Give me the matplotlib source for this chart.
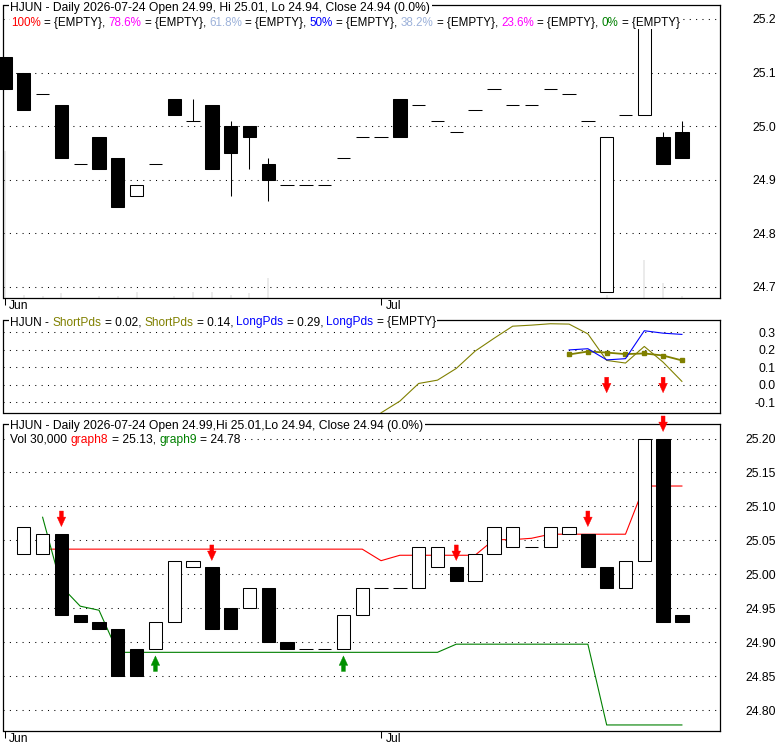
import numpy as np
import matplotlib
matplotlib.use('Agg')
import matplotlib.pyplot as plt
import matplotlib.transforms as mtrans
from matplotlib.patches import Rectangle
from matplotlib.font_manager import FontProperties

plt.rcParams['font.family'] = ['Liberation Sans', 'DejaVu Sans']
plt.rcParams['axes.unicode_minus'] = False

nan = np.nan

# ---------------- data ----------------
month_ticks = [0, 20]
month_labels = ['Jun', 'Jul']

top_open = [25.13, 25.10, 25.06, 25.04, 24.93, 24.98, 24.94, 24.87, 24.93, 25.05, 25.01, 25.04, 25.00,
            25.00, 24.93, 24.89, 24.89, 24.89, 24.94, 24.98, 24.98, 25.05, 25.04, 25.01, 24.99, 25.03,
            25.07, 25.04, 25.04, 25.07, 25.06, 25.01, 24.69, 25.02, 25.02, 24.98, 24.99]
top_close = [25.07, 25.03, 25.06, 24.94, 24.93, 24.92, 24.85, 24.89, 24.93, 25.02, 25.01, 24.92, 24.95,
             24.98, 24.90, 24.89, 24.89, 24.89, 24.94, 24.98, 24.98, 24.98, 25.04, 25.01, 24.99, 25.03,
             25.07, 25.04, 25.04, 25.07, 25.06, 25.01, 24.98, 25.02, 25.20, 24.93, 24.94]
top_high = [25.13, 25.10, 25.06, 25.04, 24.93, 24.98, 24.94, 24.89, 24.93, 25.05, 25.05, 25.04, 25.01,
            25.00, 24.94, 24.89, 24.89, 24.89, 24.94, 24.98, 24.98, 25.05, 25.04, 25.01, 24.99, 25.03,
            25.07, 25.04, 25.04, 25.07, 25.06, 25.01, 24.98, 25.02, 25.20, 24.99, 25.01]
top_low = [25.07, 25.03, 25.06, 24.94, 24.93, 24.92, 24.85, 24.87, 24.93, 25.02, 25.01, 24.92, 24.87,
           24.92, 24.86, 24.89, 24.89, 24.89, 24.94, 24.98, 24.98, 24.98, 25.04, 25.01, 24.99, 25.03,
           25.07, 25.04, 25.04, 25.07, 25.06, 25.01, 24.69, 25.02, 25.02, 24.93, 24.94]
volume = [4380000, 60000, 45000, 135000, 0, 45000, 30000, 165000, 0, 30000, 165000, 165000, 60000,
          135000, 570000, 0, 0, 0, 0, 0, 0, 0, 0, 0, 0, 0, 0, 0, 0, 0, 0, 0, 60000, 0, 1110000, 420000, 30000]

short_fast = [nan, nan, nan, nan, nan, nan, nan, nan, nan, nan, nan, nan, nan, nan, nan, nan, nan, nan,
              nan, nan, -0.16, -0.093, 0.008, 0.027, 0.094, 0.193, 0.266, 0.336, 0.342, 0.35, 0.348,
              0.292, 0.14, 0.125, 0.22, 0.13, 0.02]
short_slow = [nan, nan, nan, nan, nan, nan, nan, nan, nan, nan, nan, nan, nan, nan, nan, nan, nan, nan,
              nan, nan, nan, nan, nan, nan, nan, nan, nan, nan, nan, nan, 0.174, 0.191, 0.185, 0.176,
              0.18, 0.168, 0.14]
long_pds = [nan, nan, nan, nan, nan, nan, nan, nan, nan, nan, nan, nan, nan, nan, nan, nan, nan, nan,
            nan, nan, nan, nan, nan, nan, nan, nan, nan, nan, nan, nan, 0.20, 0.207, 0.143, 0.15,
            0.31, 0.296, 0.289]
mid_sell_idx = [32, 35]
mid_sell_level = [-0.045, -0.045]

bot_open = [nan, 25.03, 25.03, 25.06, 24.94, 24.93, 24.92, 24.89, 24.89, 24.93, 25.01, 25.01, 24.95,
            24.95, 24.98, 24.90, 24.89, 24.89, 24.89, 24.94, 24.98, 24.98, 24.98, 25.01, 25.01, 24.99,
            25.03, 25.04, 25.04, 25.04, 25.06, 25.06, 25.01, 24.98, 25.02, 25.20, 24.94]
bot_close = [nan, 25.07, 25.06, 24.94, 24.93, 24.92, 24.85, 24.85, 24.93, 25.02, 25.02, 24.92, 24.92,
             24.98, 24.90, 24.89, 24.89, 24.89, 24.94, 24.98, 24.98, 24.98, 25.04, 25.04, 24.99, 25.03,
             25.07, 25.07, 25.04, 25.07, 25.07, 25.01, 24.98, 25.02, 25.20, 24.93, 24.93]
graph8 = [nan, nan, 25.037, 25.037, 25.037, 25.037, 25.037, 25.037, 25.037, 25.037, 25.037, 25.037,
          25.037, 25.037, 25.037, 25.037, 25.037, 25.037, 25.037, 25.037, 25.02, 25.028, 25.028, 25.028,
          25.028, 25.028, 25.051, 25.051, 25.053, 25.059, 25.059, 25.059, 25.059, 25.059, 25.13, 25.13, 25.13]
graph9 = [nan, nan, 25.084, 24.982, 24.953, 24.947, 24.885, 24.885, 24.885, 24.885, 24.885, 24.885,
          24.885, 24.885, 24.885, 24.885, 24.885, 24.885, 24.885, 24.885, 24.885, 24.885, 24.885, 24.885,
          24.897, 24.897, 24.897, 24.897, 24.897, 24.897, 24.897, 24.897, 24.778, 24.778, 24.778, 24.778, 24.778]
bot_sell_idx = [3, 11, 24, 31, 35]
bot_buy_idx = [8, 18]

top_ticks = [24.7, 24.8, 24.9, 25.0, 25.1, 25.2]
top_ticklabels = ['24.7', '24.8', '24.9', '25.0', '25.1', '25.2']
mid_ticks = [-0.1, 0.0, 0.1, 0.2, 0.3]
mid_ticklabels = ['-0.1', '0.0', '0.1', '0.2', '0.3']
bot_ticks = [24.80, 24.85, 24.90, 24.95, 25.00, 25.05, 25.10, 25.15, 25.20]
bot_ticklabels = ['24.80', '24.85', '24.90', '24.95', '25.00', '25.05', '25.10', '25.15', '25.20']

# ---------------- layout ----------------
W, H, DPI = 780, 745, 100
FS = 8.7
fig = plt.figure(figsize=(W / DPI, H / DPI), dpi=DPI, facecolor='white')
renderer = fig.canvas.get_renderer()
fp = FontProperties(family=['Liberation Sans', 'DejaVu Sans'], size=FS)

x = np.arange(len(top_open))


def px_axes(l, t, r, b):
    return fig.add_axes([l / W, 1 - b / H, (r - l) / W, (b - t) / H])


ax1 = px_axes(3.5, 5, 719.5, 297.5)
axv = ax1.twinx()
ax2 = px_axes(3.5, 319.5, 719.5, 413)
ax3 = px_axes(3.5, 423.5, 719.5, 731)

XLIM = (-0.08, 38.0)


def style_axes(ax, ticks, labels, ylim, xticks=True):
    ax.set_xlim(*XLIM)
    ax.set_ylim(*ylim)
    ax.set_axisbelow(True)
    for s in ax.spines.values():
        s.set_linewidth(0.9)
        s.set_color('black')
    ax.yaxis.tick_right()
    ax.set_yticks(ticks)
    ax.set_yticklabels(labels, fontproperties=fp)
    for lab in ax.get_yticklabels():
        lab.set_horizontalalignment('right')
    ax.tick_params(axis='y', which='both', left=False, labelleft=False, right=True, labelright=True,
                   length=0, pad=40.5, labelsize=FS)
    ax.yaxis.grid(True, linestyle=(0, (1, 5.1)), color='black', linewidth=0.75)
    if xticks:
        ax.set_xticks(month_ticks)
        ax.set_xticklabels(['' for _ in month_ticks])
        ax.tick_params(axis='x', direction='out', length=5.2, width=0.75, pad=0)
        for mt, ml in zip(month_ticks, month_labels):
            tr = mtrans.offset_copy(ax.get_xaxis_transform(), fig=fig, x=4.3, y=-11.5, units='dots')
            ax.text(mt, 0, ml, transform=tr, fontproperties=fp, ha='left', va='baseline', clip_on=False)
    else:
        ax.set_xticks([])


style_axes(ax1, top_ticks, top_ticklabels, (24.6804, 25.2261))
style_axes(ax2, mid_ticks, mid_ticklabels, (-0.1611, 0.3743), xticks=False)
style_axes(ax3, bot_ticks, bot_ticklabels, (24.7691, 25.2221))

BW = 0.71


def draw_bodies(ax, o, c, zorder=3):
    o = np.asarray(o, float)
    c = np.asarray(c, float)
    m = ~np.isnan(o)
    bottom = np.minimum(o, c)[m]
    height = np.abs(c - o)[m]
    fills = np.where(c[m] > o[m], 'white', 'black')
    ax.bar(x[m], height, bottom=bottom, width=BW, color=fills, edgecolor='black',
           linewidth=0.75, zorder=zorder, clip_on=False)


# --- top panel: volume (very light) + candles ---
axv.set_ylim(0, 8760000)
axv.set_xlim(*XLIM)
axv.axis('off')
axv.set_zorder(0)
ax1.set_zorder(2)
ax1.patch.set_visible(False)
axv.patch.set_visible(True)
axv.patch.set_facecolor('white')
axv.bar(x, volume, width=0.1, color='#ebebeb', linewidth=0)

ax1.vlines(x, top_low, top_high, color='black', linewidth=0.75, zorder=2)
draw_bodies(ax1, top_open, top_close)

# --- middle panel ---
ax2.plot(x, short_fast, color='#808000', linewidth=0.8, zorder=3)
ax2.plot(x, short_slow, color='#808000', linewidth=1.3, marker='s', markersize=3.2, zorder=3)
ax2.plot(x, long_pds, color='#0000ff', linewidth=0.8, zorder=3)


def sig_arrow(ax, xi, yv, color, down=True, gap=7.0, length=15.5):
    tr = mtrans.offset_copy(ax.transData, fig=fig, y=(gap if down else -gap), units='dots')
    ax.annotate('', xy=(xi, yv), xycoords=tr, xytext=(0, length if down else -length),
                textcoords='offset pixels', annotation_clip=False,
                arrowprops=dict(arrowstyle='simple,head_length=0.68,head_width=0.62,tail_width=0.28',
                                mutation_scale=10, color=color, shrinkA=0, shrinkB=0, lw=0.3))


for i, lv in zip(mid_sell_idx, mid_sell_level):
    sig_arrow(ax2, i, lv, '#ff0000', down=True, gap=0)

# --- bottom panel ---
ax3.plot(x, graph8, color='#ff0000', linewidth=0.8, zorder=2)
ax3.plot(x, graph9, color='#008000', linewidth=0.8, zorder=2)
draw_bodies(ax3, bot_open, bot_close)
bo = np.asarray(bot_open, float)
bc = np.asarray(bot_close, float)
for i in bot_sell_idx:
    sig_arrow(ax3, i, max(bo[i], bc[i]), '#ff0000', down=True)
for i in bot_buy_idx:
    sig_arrow(ax3, i, min(bo[i], bc[i]), '#009000', down=False)


# ---------------- legend / title lines ----------------
def adv(s, f):
    w1 = renderer.get_text_width_height_descent('|' + s + '|', f, ismath=False)[0]
    w0 = renderer.get_text_width_height_descent('||', f, ismath=False)[0]
    return w1 - w0


def rich(x0, baseline, parts, box_top, box_bot, x_end):
    full_text = ''.join(s for s, _ in parts)
    natural = adv(full_text, fp)
    f = fp.copy()
    f.set_size(FS * (x_end - x0) / natural)
    full = ''
    for s, c in parts:
        lead = len(s) - len(s.lstrip(' '))
        pre = full + s[:lead]
        xs = x0 + (adv(pre, f) if pre else 0)
        fig.text(xs / W, 1 - baseline / H, s.lstrip(' '), color=c, fontproperties=f,
                 ha='left', va='baseline', zorder=6)
        full += s
    xe = x0 + adv(full, f)
    fig.patches.append(Rectangle(((x0 - 1.5) / W, 1 - box_bot / H), (xe - x0 + 3) / W,
                                 (box_bot - box_top) / H, transform=fig.transFigure,
                                 facecolor='white', edgecolor='none', zorder=5))


K = 'black'
rich(10.5, 10.5, [('HJUN - Daily 2026-07-24 Open 24.99, Hi 25.01, Lo 24.94, Close 24.94 (0.0%)', K)],
     0, 13, 432)
rich(11.0, 26.0, [('100%', '#ff0000'), (' = {EMPTY}, ', K), ('78.6%', '#ff00ff'), (' = {EMPTY}, ', K),
                  ('61.8%', '#9db2da'), (' = {EMPTY}, ', K), ('50%', '#0000ff'), (' = {EMPTY}, ', K),
                  ('38.2%', '#9db2da'), (' = {EMPTY}, ', K), ('23.6%', '#ff00ff'), (' = {EMPTY}, ', K),
                  ('0%', '#008000'), (' = {EMPTY}', K)], 13, 28.6, 680)
rich(10.5, 325.5, [('HJUN - ', K), ('ShortPds', '#808000'), (' = 0.02, ', K), ('ShortPds', '#808000'),
                   (' = 0.14, ', K), ('LongPds', '#0000ff'), (' = 0.29, ', K), ('LongPds', '#0000ff'),
                   (' = {EMPTY}', K)], 314, 328, 443)
rich(10.5, 429.5, [('HJUN - Daily 2026-07-24 Open 24.99,Hi 25.01,Lo 24.94, Close 24.94 (0.0%)', K)],
     418, 432, 426)
rich(10.5, 442.8, [('Vol 30,000 ', K), ('graph8', '#ff0000'), (' = 25.13, ', K), ('graph9', '#008000'),
                   (' = 24.78', K)], 432, 446, 242.5)

fig.savefig('out.png', dpi=DPI, facecolor='white')
